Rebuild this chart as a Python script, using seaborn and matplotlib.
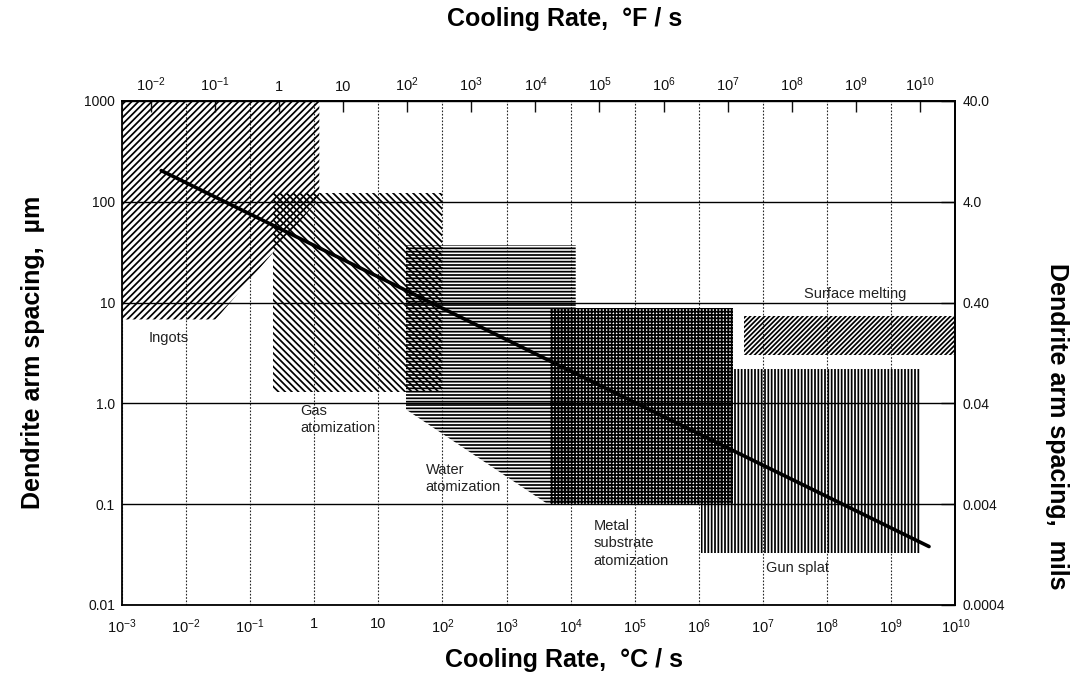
import matplotlib
matplotlib.use("Agg")
import matplotlib.pyplot as plt
import seaborn as sns
from matplotlib.ticker import FixedLocator, FixedFormatter, NullLocator

# trend line, cooling rate (C/s) vs dendrite arm spacing (um)
line_rate = [4.1e-3, 3.9e9]
line_spacing = [204, 0.038]

# process regions (polygon corners, C/s and um)
ingots_x = [1e-3, 1.2, 1.2, 0.029, 1e-3]
ingots_y = [1000, 1000, 107, 6.8, 6.8]
gas_x = [0.23, 100, 100, 0.23]
gas_y = [123, 123, 1.3, 1.3]
water_x = [27, 1.2e4, 1.2e4, 4400, 27]
water_y = [37, 37, 0.1, 0.1, 0.87]
metal_x = [4700, 3.4e6, 3.4e6, 4700]
metal_y = [8.9, 8.9, 0.1, 0.1]
splat_x = [1.07e6, 2.8e9, 2.8e9, 1.07e6]
splat_y = [2.2, 2.2, 0.033, 0.033]
melt_x = [5e6, 1e10, 1e10, 5e6]
melt_y = [7.4, 7.4, 3.0, 3.0]

# axis ticks
c_ticks = [10.0 ** k for k in range(-3, 11)]
c_labels = ['$10^{-3}$', '$10^{-2}$', '$10^{-1}$', '1', '10', '$10^{2}$', '$10^{3}$',
            '$10^{4}$', '$10^{5}$', '$10^{6}$', '$10^{7}$', '$10^{8}$', '$10^{9}$', '$10^{10}$']
f_ticks = [10.0 ** k for k in range(-2, 11)]
f_labels = ['$10^{-2}$', '$10^{-1}$', '1', '10', '$10^{2}$', '$10^{3}$', '$10^{4}$',
            '$10^{5}$', '$10^{6}$', '$10^{7}$', '$10^{8}$', '$10^{9}$', '$10^{10}$']
um_ticks = [1000, 100, 10, 1, 0.1, 0.01]
um_labels = ['1000', '100', '10', '1.0', '0.1', '0.01']
mil_ticks = [40, 4, 0.4, 0.04, 0.004, 0.0004]
mil_labels = ['40.0', '4.0', '0.40', '0.04', '0.004', '0.0004']

F_SHIFT = 10 ** 0.55   # top scale offset as printed in the original figure
UM_PER_MIL = 25        # rounded, so mil ticks sit on the um decades like the original

sns.set_theme(style="white")
plt.rcParams['font.family'] = ['Liberation Sans', 'DejaVu Sans']
plt.rcParams['mathtext.fontset'] = 'custom'
plt.rcParams['mathtext.rm'] = 'Liberation Sans'
plt.rcParams['mathtext.it'] = 'Liberation Sans:italic'
plt.rcParams['mathtext.bf'] = 'Liberation Sans:bold'
plt.rcParams['hatch.linewidth'] = 1.25

fig = plt.figure(figsize=(10.85, 6.87), dpi=100)
ax = fig.add_axes([0.1124, 0.1194, 0.768, 0.7336])
ax.set_xscale('log')
ax.set_yscale('log')
ax.set_xlim(1e-3, 1e10)
ax.set_ylim(0.01, 1000)

# grid
for v in c_ticks:
    ax.axvline(v, color='0.15', lw=0.8, ls=(0, (1.5, 1.5)), zorder=1)
for h in um_ticks:
    ax.axhline(h, color='black', lw=1.0, zorder=1)

regions = [
    (ingots_x, ingots_y, '/////'),
    (gas_x, gas_y, '\\\\\\\\\\'),
    (water_x, water_y, '-----'),
    (metal_x, metal_y, '+++++'),
    (splat_x, splat_y, '|||||'),
    (melt_x, melt_y, '///////'),
]
for xs, ys, hatch in regions:
    ax.fill(xs, ys, facecolor='none', edgecolor='black', hatch=hatch, linewidth=0, zorder=2)

sns.lineplot(x=line_rate, y=line_spacing, color='black', lw=2.6, ax=ax, zorder=3)

lab = dict(fontsize=10.5, color='#222222', zorder=4, linespacing=1.3)
ax.text(2.6e-3, 4.5, 'Ingots', ha='left', va='center', **lab)
ax.text(0.61, 0.69, 'Gas\natomization', ha='left', va='center', **lab)
ax.text(55, 0.18, 'Water\natomization', ha='left', va='center', **lab)
ax.text(2.3e4, 0.041, 'Metal\nsubstrate\natomization', ha='left', va='center', **lab)
ax.text(1.1e7, 0.0234, 'Gun splat', ha='left', va='center', **lab)
ax.text(4.4e7, 12.3, 'Surface melting', ha='left', va='center', **lab)

# bottom / left axes
ax.xaxis.set_major_locator(FixedLocator(c_ticks))
ax.xaxis.set_major_formatter(FixedFormatter(c_labels))
ax.xaxis.set_minor_locator(NullLocator())
ax.yaxis.set_major_locator(FixedLocator(um_ticks))
ax.yaxis.set_major_formatter(FixedFormatter(um_labels))
ax.yaxis.set_minor_locator(NullLocator())
ax.tick_params(axis='x', direction='in', length=0, pad=9, labelsize=10.5, colors='#111111')
ax.tick_params(axis='y', direction='in', length=4, pad=5, labelsize=10, colors='#111111')

# top axis, F/s
top = ax.secondary_xaxis('top', functions=(lambda c: c * F_SHIFT, lambda f: f / F_SHIFT))
top.xaxis.set_major_locator(FixedLocator(f_ticks))
top.xaxis.set_major_formatter(FixedFormatter(f_labels))
top.xaxis.set_minor_locator(NullLocator())
top.tick_params(direction='in', length=8, width=1.0, pad=5, labelsize=10.5, colors='#111111')

# right axis, mils
right = ax.secondary_yaxis('right', functions=(lambda u: u / UM_PER_MIL, lambda m: m * UM_PER_MIL))
right.yaxis.set_major_locator(FixedLocator(mil_ticks))
right.yaxis.set_major_formatter(FixedFormatter(mil_labels))
right.yaxis.set_minor_locator(NullLocator())
right.tick_params(direction='in', length=10, width=1.0, pad=5, labelsize=10, colors='#111111')

for a in (ax, top, right):
    for s in a.spines.values():
        s.set_color('black')
        s.set_linewidth(1.3)

title_kw = dict(fontsize=18, fontweight='bold', color='black')
fig.text(0.52, 0.973, 'Cooling Rate,  \u00b0F / s', ha='center', va='center', **title_kw)
fig.text(0.52, 0.040, 'Cooling Rate,  \u00b0C / s', ha='center', va='center', **title_kw)
fig.text(0.030, 0.487, 'Dendrite arm spacing,  \u00b5m', ha='center', va='center', rotation=90, **title_kw)
fig.text(0.974, 0.380, 'Dendrite arm spacing,  mils', ha='center', va='center', rotation=-90, **title_kw)

fig.savefig('out.png', dpi=100)
